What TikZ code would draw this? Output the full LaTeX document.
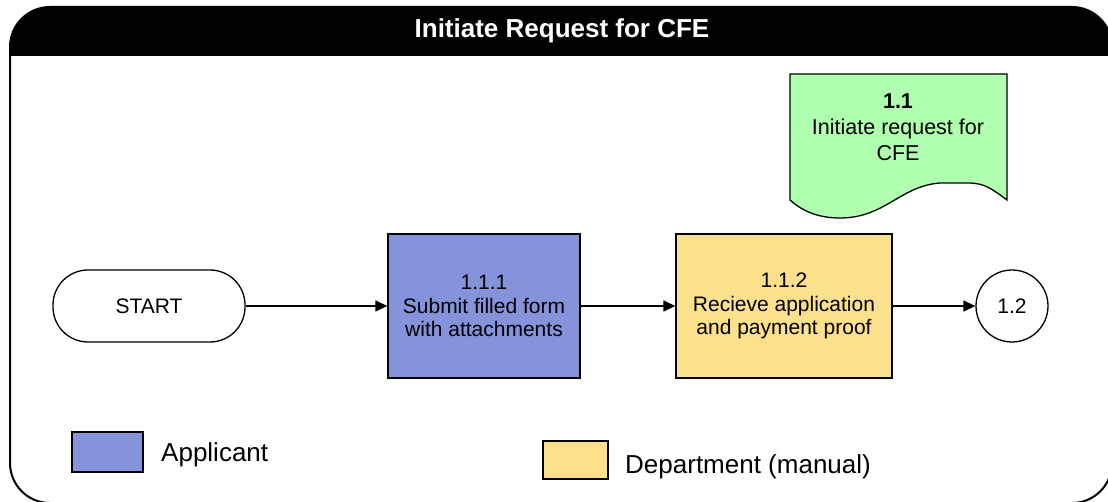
\documentclass[tikz,border=0pt]{standalone}
\usepackage{fontspec}
\setmainfont{Liberation Sans}
\usetikzlibrary{arrows.meta}
\definecolor{bluebox}{HTML}{8593DB}
\definecolor{yellowbox}{HTML}{FDE08C}
\definecolor{greendoc}{HTML}{B0FEB0}
\tikzset{
  proc/.style={draw=black, line width=1.3pt, inner sep=0pt, align=center,
    font=\fontsize{21}{23.5}\selectfont, minimum height=144pt},
  conn/.style={line width=1.3pt, -{Triangle[length=12pt,width=11pt]}},
  legbox/.style={draw=black, line width=1.3pt, inner sep=0pt},
  legtext/.style={anchor=base west, inner sep=0pt, font=\fontsize{26}{30}\selectfont},
}
\begin{document}
\begin{tikzpicture}[x=1pt,y=-1pt]
\useasboundingbox (0,0) rectangle (1108,502);
\fill[white] (0,0) rectangle (1108,502);
% frame and title bar
\begin{scope}
  \clip (0,0) rectangle (1120,56);
  \fill[black, rounded corners=40pt] (10,7) rectangle (1112,503);
\end{scope}
\draw[line width=2pt, rounded corners=40pt] (10,7) rectangle (1112,503);
\node[text=white, font=\bfseries\fontsize{26}{30}\selectfont] (title) at (562,31) {Initiate Request for CFE};
% document shape
\filldraw[fill=greendoc, draw=black, line width=1.3pt]
  (790,74) -- (1007,74) -- (1007,200)
  .. controls (992,189) and (985,183) .. (968,183)
  -- (940,183)
  .. controls (900,186) and (885,218) .. (840,218)
  .. controls (815,218) and (800,209) .. (790,200) -- cycle;
\node[align=center, font=\fontsize{21.5}{26}\selectfont] (doc) at (898,127) {\textbf{1.1}\\Initiate request for\\CFE};
% flow nodes
\node[draw=black, line width=1.3pt, rounded corners=35pt, minimum width=192pt, minimum height=72pt,
  inner sep=0pt, font=\fontsize{21}{24}\selectfont] (start) at (149,306) {START};
\node[proc, fill=bluebox, minimum width=192pt] (p111) at (484,306) {1.1.1\\Submit filled form\\with attachments};
\node[proc, fill=yellowbox, minimum width=216pt] (p112) at (784,306) {1.1.2\\Recieve application\\and payment proof};
\node[draw=black, line width=1.3pt, circle, minimum size=72pt, inner sep=0pt,
  font=\fontsize{21}{24}\selectfont] (c12) at (1012,306) {1.2};
\draw[conn] (start) -- (p111);
\draw[conn] (p111) -- (p112);
\draw[conn] (p112) -- (c12);
% legend
\node[legbox, fill=bluebox, minimum width=71pt, minimum height=40pt] (leg1) at (107.5,452) {};
\node[legtext] (leg1t) at (161,461) {Applicant};
\node[legbox, fill=yellowbox, minimum width=65pt, minimum height=38pt] (leg2) at (575.5,460) {};
\node[legtext] (leg2t) at (625,473) {Department (manual)};
\end{tikzpicture}
\end{document}
